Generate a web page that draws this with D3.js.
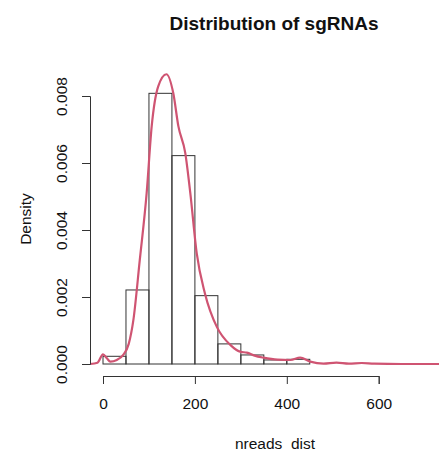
<!DOCTYPE html>
<html>
<head>
<meta charset="utf-8">
<script src="https://cdn.jsdelivr.net/npm/d3@7"></script>
<style>
  body { margin: 0; background: #fff; }
  text { font-family: "Liberation Sans", Arial, sans-serif; fill: #111; }
</style>
</head>
<body>
<div id="chart"></div>
<script>
// histogram bins (breaks every 50) and their densities
const binStarts = [0, 50, 100, 150, 200, 250, 300, 350, 400];
const binDensity = [0.00023, 0.00221, 0.00808, 0.00622, 0.00204, 0.0006, 0.00027, 0.00012, 0.00014];

// kernel density estimate
const densX = [-28, -12, 0, 8, 16, 30, 44, 56, 66, 80, 95, 106, 120, 138, 153, 164, 179, 190, 204, 222, 248, 277, 300, 313, 330, 349, 380, 408, 429, 451, 480, 508, 535, 563, 590, 650, 760];
const densY = [0, 0.00004, 0.00029, 0.00018, 0.00007, 0.00012, 0.00027, 0.0006, 0.0013, 0.0031, 0.0051, 0.0071, 0.00828, 0.00865, 0.00808, 0.0071, 0.0063, 0.0051, 0.0033, 0.0021, 0.0011, 0.00057, 0.00036, 0.00034, 0.00025, 0.00019, 0.00013, 0.00012, 0.00019, 0.00007, 0.00001, 0.00004, 0.00001, 0.00003, 0.00001, 0, 0];

const xTicks = [0, 200, 400, 600];
const yTicks = [0, 0.002, 0.004, 0.006, 0.008];

const width = 439, height = 453;

const svg = d3.select("#chart").append("svg")
    .attr("width", width)
    .attr("height", height);

// scales
const x = d3.scaleLinear().domain([0, 600]).range([103, 378.7]);
const y = d3.scaleLinear().domain([0, 0.008]).range([364, 96]);

// bars
svg.selectAll(".bar")
    .data(binStarts)
    .enter().append("rect")
    .attr("class", "bar")
    .attr("x", (d, i) => x(d))
    .attr("y", (d, i) => y(binDensity[i]))
    .attr("width", d => x(d + 50) - x(d))
    .attr("height", (d, i) => y(0) - y(binDensity[i]))
    .attr("fill", "none")
    .attr("stroke", "#333")
    .attr("stroke-width", 1);

// density line
const line = d3.line()
    .x((d, i) => x(densX[i]))
    .y(d => y(d))
    .curve(d3.curveMonotoneX);

svg.append("path")
    .datum(densY)
    .attr("d", line)
    .attr("fill", "none")
    .attr("stroke", "#cf5472")
    .attr("stroke-width", 2.2);

// x axis (R style, offset below plot)
const xAxis = d3.axisBottom(x).tickValues(xTicks).tickSize(8).tickPadding(14).tickFormat(d3.format("d"));
const gx = svg.append("g")
    .attr("transform", "translate(0,376)")
    .call(xAxis);
gx.select(".domain").attr("stroke", "#333");
gx.selectAll(".tick line").attr("stroke", "#333");
gx.selectAll("text").attr("font-size", "15.5px").attr("fill", "#111")
    .attr("font-family", "Liberation Sans, Arial, sans-serif");

// y axis with rotated labels
const yAxis = d3.axisLeft(y).tickValues(yTicks).tickSize(8).tickFormat(d3.format(".3f"));
const gy = svg.append("g")
    .attr("transform", "translate(90,0)")
    .call(yAxis);
gy.select(".domain").attr("stroke", "#333");
gy.selectAll(".tick line").attr("stroke", "#333");
gy.selectAll("text")
    .attr("font-size", "15.5px")
    .attr("fill", "#111")
    .attr("font-family", "Liberation Sans, Arial, sans-serif")
    .attr("text-anchor", "middle")
    .attr("x", null)
    .attr("dy", null)
    .attr("transform", "translate(-23,0) rotate(-90)");

// title and labels
svg.append("text")
    .attr("x", 274)
    .attr("y", 30)
    .attr("text-anchor", "middle")
    .attr("font-size", "19px")
    .attr("font-weight", "bold")
    .text("Distribution of sgRNAs");

svg.append("text")
    .attr("transform", "translate(31,219) rotate(-90)")
    .attr("text-anchor", "middle")
    .attr("font-size", "15.5px")
    .text("Density");

svg.append("text")
    .attr("x", 275)
    .attr("y", 449)
    .attr("text-anchor", "middle")
    .attr("font-size", "15.5px")
    .attr("xml:space", "preserve")
    .style("white-space", "pre")
    .text("nreads  dist");
</script>
</body>
</html>
